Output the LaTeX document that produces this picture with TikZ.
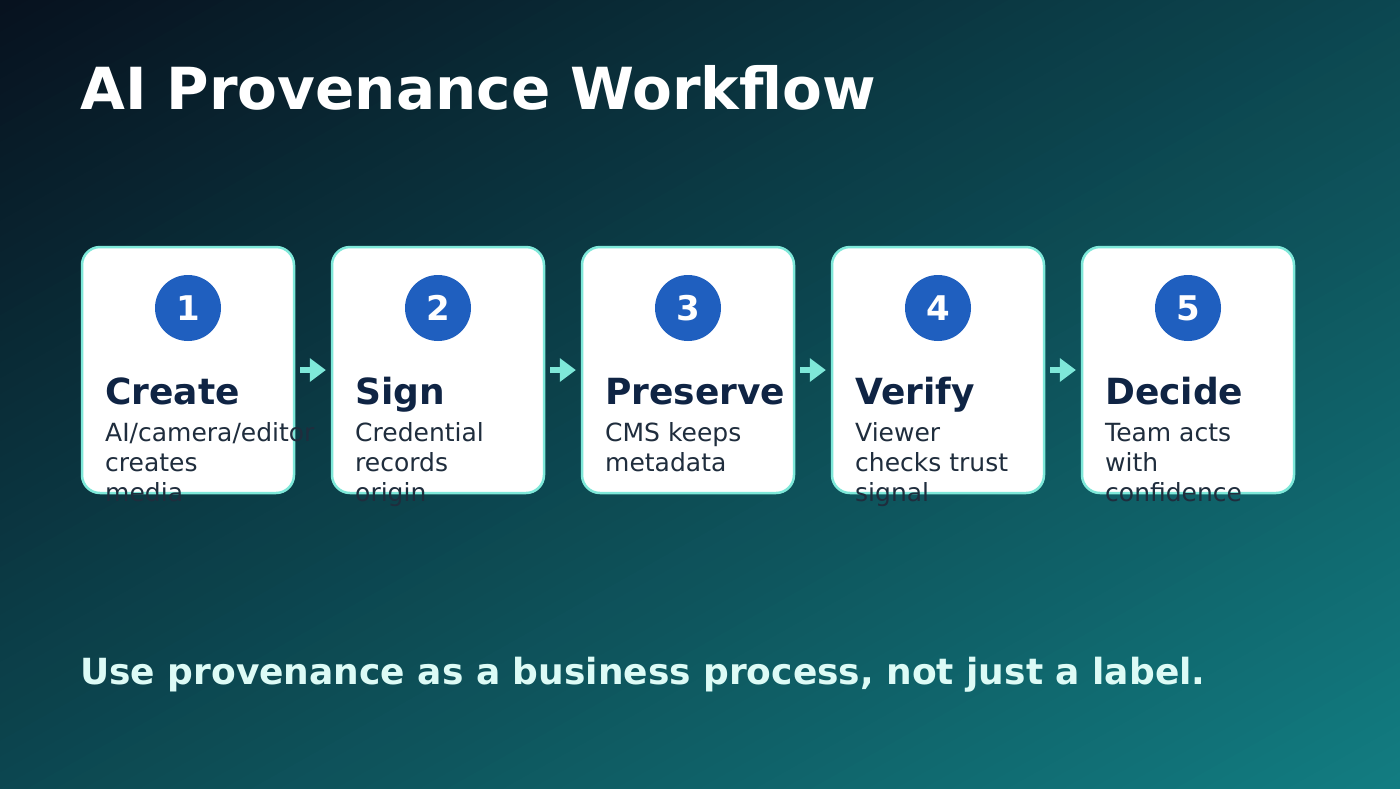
\documentclass[tikz,border=0pt]{standalone}
\usepackage{fontspec}
\setmainfont{DejaVu Sans}
\usetikzlibrary{arrows.meta}
\definecolor{bgA}{HTML}{07121F}
\definecolor{bgB}{HTML}{127D82}
\definecolor{mint}{HTML}{7EE8D9}
\definecolor{badge}{HTML}{1F5FBF}
\definecolor{navy}{HTML}{0F2444}
\definecolor{slate}{HTML}{1F2D3D}
\definecolor{foot}{HTML}{DDFBF6}
\begin{document}
\begin{tikzpicture}[x=1pt,y=-1pt,
  card/.style={draw=mint, line width=2.5pt, fill=white, rounded corners=18pt, minimum width=212pt, minimum height=246pt, inner sep=0pt},
  badgecirc/.style={circle, fill=badge, minimum size=66pt, inner sep=0pt, text=white, font=\bfseries\fontsize{34}{34}\selectfont},
  head/.style={anchor=base west, inner sep=0pt, text=navy, font=\bfseries\fontsize{36}{36}\selectfont},
  desc/.style={anchor=base west, inner sep=0pt, text=slate, font=\fontsize{25}{30}\selectfont},
  flow/.style={draw=mint, line width=6pt, -{Triangle[length=16pt,width=24pt,line width=0pt]}, shorten <=5pt, shorten >=5pt},
  title/.style={anchor=base west, inner sep=0pt, text=white, font=\bfseries\fontsize{58}{58}\selectfont},
  footer/.style={anchor=base west, inner sep=0pt, text=foot, font=\bfseries\fontsize{36}{36}\selectfont}
]
\useasboundingbox (0,0) rectangle (1400,788);
\begin{scope}
\clip (0,0) rectangle (1400,788);
\foreach \i in {0,...,99}{
  \pgfmathsetmacro\ta{\i/50}
  \pgfmathsetmacro\tb{(\i+1.3)/50}
  \fill[bgB!\i!bgA] (\ta*1400,0) -- (\tb*1400,0) -- (0,\tb*788) -- (0,\ta*788) -- cycle;
}
\end{scope}

\node[title] (title) at (80,109) {AI Provenance Workflow};

\foreach \k/\x in {1/188,2/438,3/688,4/938,5/1188}{
  \node[card] (c\k) at (\x,370) {};
  \node[badgecirc] (n\k) at (\x,308) {\k};
}

\node[head] (h1) at (105,404) {Create};
\node[desc] (d1a) at (105,441) {AI/camera/editor};
\node[desc] (d1b) at (105,471) {creates};
\node[desc] (d1c) at (105,501) {media};

\node[head] (h2) at (355,404) {Sign};
\node[desc] (d2a) at (355,441) {Credential};
\node[desc] (d2b) at (355,471) {records};
\node[desc] (d2c) at (355,501) {origin};

\node[head] (h3) at (605,404) {Preserve};
\node[desc] (d3a) at (605,441) {CMS keeps};
\node[desc] (d3b) at (605,471) {metadata};

\node[head] (h4) at (855,404) {Verify};
\node[desc] (d4a) at (855,441) {Viewer};
\node[desc] (d4b) at (855,471) {checks trust};
\node[desc] (d4c) at (855,501) {signal};

\node[head] (h5) at (1105,404) {Decide};
\node[desc] (d5a) at (1105,441) {Team acts};
\node[desc] (d5b) at (1105,471) {with};
\node[desc] (d5c) at (1105,501) {confidence};

\draw[flow] (c1.east) -- (c2.west);
\draw[flow] (c2.east) -- (c3.west);
\draw[flow] (c3.east) -- (c4.west);
\draw[flow] (c4.east) -- (c5.west);

\node[footer] (foot) at (80,684) {Use provenance as a business process, not just a label.};
\end{tikzpicture}
\end{document}
